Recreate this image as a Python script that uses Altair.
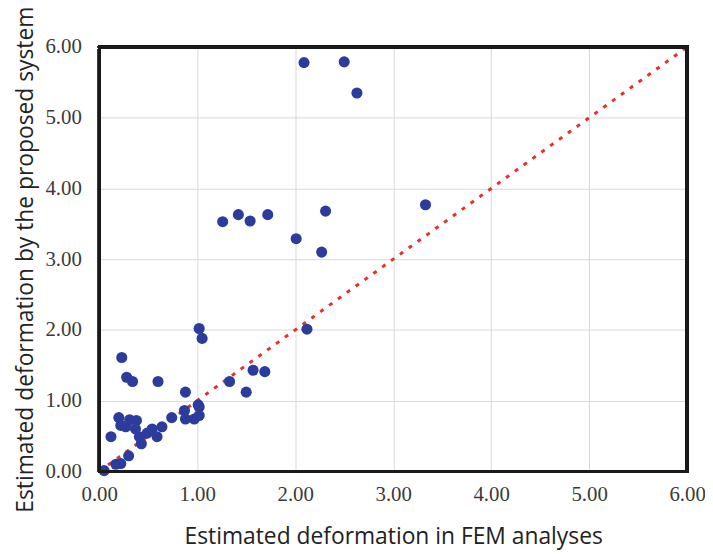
import altair as alt
import pandas as pd

fem = [0.05, 0.17, 0.22, 0.30, 0.12, 0.20, 0.22, 0.31, 0.27, 0.38, 0.37, 0.41, 0.43,
       0.49, 0.54, 0.59, 0.64, 0.74, 0.87, 0.88, 0.97, 1.02, 1.02,
       0.23, 0.28, 0.34, 0.60, 0.88, 1.01, 1.02, 1.05, 1.33, 1.50, 1.57, 1.69,
       1.26, 1.42, 1.54, 1.72, 2.01, 2.27, 2.31, 3.33, 2.12,
       2.09, 2.50, 2.63]
proposed = [0.01, 0.10, 0.11, 0.22, 0.49, 0.76, 0.65, 0.73, 0.63, 0.72, 0.60, 0.49, 0.39,
            0.54, 0.60, 0.49, 0.63, 0.76, 0.86, 0.74, 0.74, 0.91, 0.79,
            1.61, 1.33, 1.27, 1.27, 1.12, 0.94, 2.02, 1.88, 1.27, 1.12, 1.43, 1.41,
            3.53, 3.63, 3.54, 3.63, 3.29, 3.10, 3.68, 3.77, 2.01,
            5.78, 5.79, 5.35]

line_x = [0.0, 6.0]
line_y = [0.0, 6.0]
ticks = [0, 1, 2, 3, 4, 5, 6]

pts = pd.DataFrame({"fem": fem, "prop": proposed})
ref = pd.DataFrame({"fem": line_x, "prop": line_y})

W, H = 593, 428

xs = alt.Scale(domain=[0, 6], nice=False)
ys = alt.Scale(domain=[0, 6], nice=False)

xax = alt.Axis(title="Estimated deformation in FEM analyses", values=ticks, format=".2f",
               grid=True, gridColor="#d9d9d9", gridWidth=1, domain=False, ticks=False,
               labelFlush=False, labelOverlap=False,
               labelFont="Liberation Serif", labelFontSize=21, labelColor="#3a3a3a",
               labelPadding=12, titleFont="Open Sans", titleFontSize=23,
               titleFontWeight="normal", titleColor="#222222", titlePadding=22)
yax = alt.Axis(title="Estimated deformation by the proposed system", values=ticks, format=".2f",
               grid=True, gridColor="#d9d9d9", gridWidth=1, domain=False, ticks=False,
               labelFlush=False, labelOverlap=False,
               labelFont="Liberation Serif", labelFontSize=21, labelColor="#3a3a3a",
               labelPadding=18, titleFont="Open Sans", titleFontSize=23,
               titleFontWeight="normal", titleColor="#222222", titlePadding=8)

dash = alt.Chart(ref).mark_line(color="#e8302a", strokeWidth=3, strokeDash=[4, 7],
                                clip=True).encode(
    x=alt.X("fem:Q", scale=xs, axis=xax),
    y=alt.Y("prop:Q", scale=ys, axis=yax),
)

dots = alt.Chart(pts).mark_circle(color="#2b3c9c", size=125, opacity=1).encode(
    x=alt.X("fem:Q", scale=xs),
    y=alt.Y("prop:Q", scale=ys),
)

frame = alt.Chart(pts).mark_rect(filled=False, stroke="#1a1a1a", strokeWidth=2.5).encode(
    x=alt.value(0), x2=alt.value(W), y=alt.value(0), y2=alt.value(H)
)

chart = alt.layer(dash, dots, frame).properties(
    width=W, height=H,
    autosize=alt.AutoSizeParams(type="none"),
    padding={"left": 92, "top": 37, "right": 18, "bottom": 80},
    background="white",
).configure_view(stroke=None)

chart.save("out.html", embed_options={"renderer": "svg", "actions": False})
